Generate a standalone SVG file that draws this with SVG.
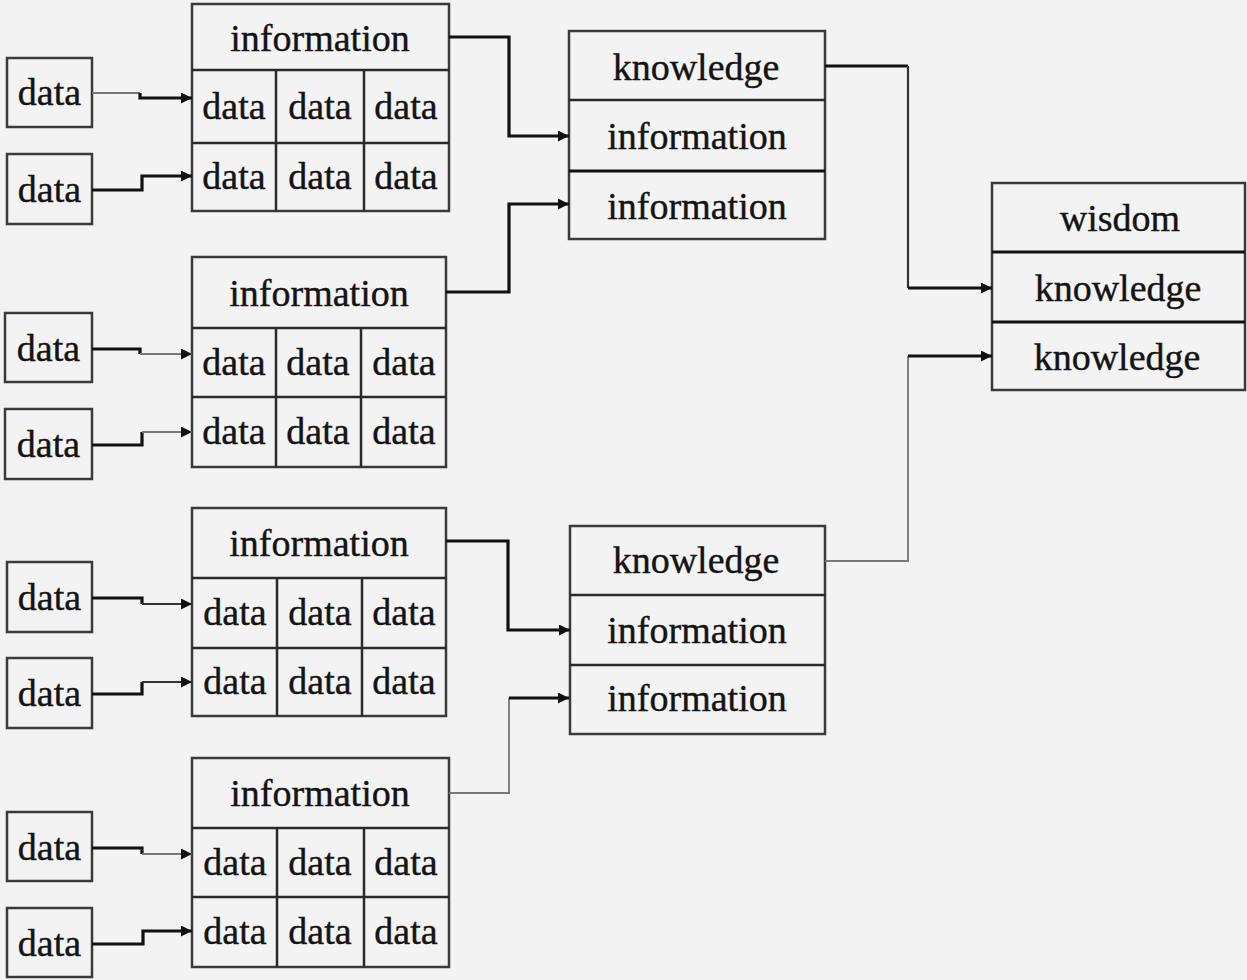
<svg xmlns="http://www.w3.org/2000/svg" width="1247" height="980" viewBox="0 0 1247 980">
<defs>
<marker id="ah" viewBox="0 0 10 10" refX="10" refY="5" markerWidth="12" markerHeight="11" markerUnits="userSpaceOnUse" orient="auto">
<path d="M0,0 L10,5 L0,10 z" fill="#111"/>
</marker>
</defs>
<style>
.bx{fill:none;stroke:#3a3a3a;stroke-width:2.5}
.dv{fill:none;stroke:#2a2a2a;stroke-width:2.5}
.t{font-family:"Liberation Serif","Times New Roman",serif;font-size:38px;fill:#141414;stroke:#141414;stroke-width:0.4;text-anchor:middle}
.thk{fill:none;stroke:#111;stroke-width:3.2}
.thn{fill:none;stroke:#777;stroke-width:1.8}
.med{fill:none;stroke:#333;stroke-width:2.2}
</style>
<rect width="1247" height="980" fill="#f3f3f3"/>

<!-- data boxes -->
<g id="d1a"><rect class="bx" x="7" y="58" width="85" height="69"/><text class="t" x="49.5" y="105">data</text></g>
<g id="d1b"><rect class="bx" x="7" y="154" width="85" height="70"/><text class="t" x="49.5" y="202">data</text></g>
<g id="d2a"><rect class="bx" x="5" y="313" width="87" height="69"/><text class="t" x="48.5" y="361">data</text></g>
<g id="d2b"><rect class="bx" x="5" y="409" width="87" height="70"/><text class="t" x="48.5" y="457">data</text></g>
<g id="d3a"><rect class="bx" x="7" y="562" width="85" height="70"/><text class="t" x="49.5" y="610">data</text></g>
<g id="d3b"><rect class="bx" x="7" y="658" width="85" height="70"/><text class="t" x="49.5" y="706">data</text></g>
<g id="d4a"><rect class="bx" x="7" y="812" width="85" height="69"/><text class="t" x="49.5" y="860">data</text></g>
<g id="d4b"><rect class="bx" x="7" y="908" width="85" height="69"/><text class="t" x="49.5" y="956">data</text></g>

<!-- information tables -->
<g id="info1">
<rect class="bx" x="192" y="4" width="257" height="207"/>
<path class="dv" d="M192,70 H449 M192,143 H449 M276,70 V211 M364,70 V211"/>
<text class="t" x="320" y="51">information</text>
<text class="t" x="234" y="119">data</text><text class="t" x="320" y="119">data</text><text class="t" x="406" y="119">data</text>
<text class="t" x="234" y="189">data</text><text class="t" x="320" y="189">data</text><text class="t" x="406" y="189">data</text>
</g>
<g id="info2">
<rect class="bx" x="192" y="257" width="254" height="210"/>
<path class="dv" d="M192,328 H446 M192,397 H446 M276,328 V467 M361,328 V467"/>
<text class="t" x="319" y="306">information</text>
<text class="t" x="234" y="375">data</text><text class="t" x="318" y="375">data</text><text class="t" x="404" y="375">data</text>
<text class="t" x="234" y="444">data</text><text class="t" x="318" y="444">data</text><text class="t" x="404" y="444">data</text>
</g>
<g id="info3">
<rect class="bx" x="192" y="508" width="254" height="208"/>
<path class="dv" d="M192,578 H446 M192,648 H446 M277,578 V716 M362,578 V716"/>
<text class="t" x="319" y="556">information</text>
<text class="t" x="235" y="625">data</text><text class="t" x="320" y="625">data</text><text class="t" x="404" y="625">data</text>
<text class="t" x="235" y="694">data</text><text class="t" x="320" y="694">data</text><text class="t" x="404" y="694">data</text>
</g>
<g id="info4">
<rect class="bx" x="192" y="758" width="257" height="209"/>
<path class="dv" d="M192,828 H449 M192,897 H449 M277,828 V967 M364,828 V967"/>
<text class="t" x="320" y="806">information</text>
<text class="t" x="235" y="875">data</text><text class="t" x="320" y="875">data</text><text class="t" x="406" y="875">data</text>
<text class="t" x="235" y="944">data</text><text class="t" x="320" y="944">data</text><text class="t" x="406" y="944">data</text>
</g>

<!-- knowledge blocks -->
<g id="know1">
<rect class="bx" x="569" y="31" width="256" height="208"/>
<path class="dv" d="M569,100 H825"/>
<path class="dv" d="M569,171 H825" style="stroke:#111;stroke-width:3"/>
<text class="t" x="696" y="80">knowledge</text>
<text class="t" x="697" y="149">information</text>
<text class="t" x="697" y="219">information</text>
</g>
<g id="know2">
<rect class="bx" x="570" y="526" width="255" height="208"/>
<path class="dv" d="M570,595 H825 M570,665 H825"/>
<text class="t" x="696" y="573">knowledge</text>
<text class="t" x="697" y="643">information</text>
<text class="t" x="697" y="711">information</text>
</g>

<!-- wisdom -->
<g id="wisdom">
<rect class="bx" x="992" y="183" width="253" height="207"/>
<path class="dv" d="M992,252 H1245 M992,322 H1245" style="stroke:#111;stroke-width:3"/>
<text class="t" x="1120" y="231">wisdom</text>
<text class="t" x="1118" y="301">knowledge</text>
<text class="t" x="1117" y="370">knowledge</text>
</g>

<!-- connectors -->
<g id="connectors">
<path class="thn" d="M92,93 H140"/>
<path class="thk" d="M140,93 V98 H192" marker-end="url(#ah)"/>
<path class="thk" d="M92,190 H142 V176 H192" marker-end="url(#ah)"/>

<path class="thk" d="M92,349 H140 V354"/>
<path class="thn" d="M140,354 H192" marker-end="url(#ah)"/>
<path class="thk" d="M92,445 H142 V432"/>
<path class="thn" d="M142,432 H192" marker-end="url(#ah)"/>

<path class="thk" d="M92,598 H142 V604"/>
<path class="med" d="M142,604 H192" marker-end="url(#ah)"/>
<path class="thk" d="M92,694 H142 V682"/>
<path class="med" d="M142,682 H192" marker-end="url(#ah)"/>

<path class="thk" d="M92,848 H142 V854"/>
<path class="thn" d="M142,854 H192" marker-end="url(#ah)"/>
<path class="thk" d="M92,944 H143 V931 H192" marker-end="url(#ah)"/>

<path class="thk" d="M449,37 H509 V136 H569" marker-end="url(#ah)"/>
<path class="thk" d="M446,292 H509 V204 H569" marker-end="url(#ah)"/>
<path class="thk" d="M446,541 H508 V630 H570" marker-end="url(#ah)"/>
<path class="thn" d="M449,793 H509 V698"/>
<path class="thk" d="M509,698 H569" marker-end="url(#ah)"/>

<path class="thk" d="M825,66 H908"/>
<path class="med" d="M908,66 V288"/>
<path class="thk" d="M908,288 H992" marker-end="url(#ah)"/>
<path class="thn" d="M825,561 H908 V356"/>
<path class="thk" d="M908,356 H992" marker-end="url(#ah)"/>
</g>
</svg>
